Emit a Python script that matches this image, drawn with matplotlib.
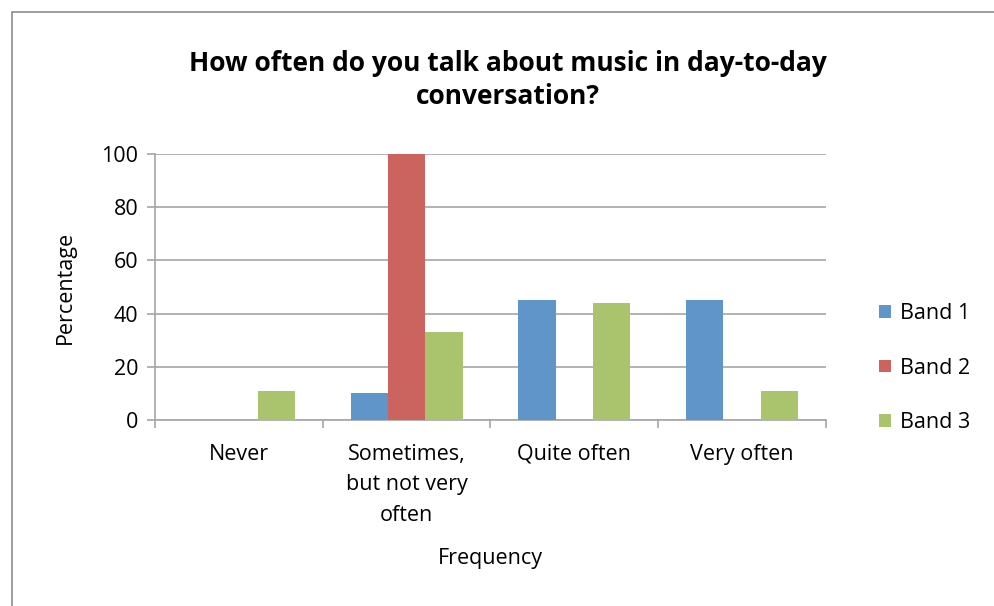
import matplotlib
matplotlib.use("Agg")
import matplotlib.pyplot as plt
from matplotlib.patches import Rectangle
import numpy as np

plt.rcParams['font.family'] = ['Open Sans', 'DejaVu Sans']

categories = ["Never", "Sometimes,\nbut not very\noften", "Quite often", "Very often"]
series = ["Band 1", "Band 2", "Band 3"]
band1 = [0, 10, 45, 45]
band2 = [0, 100, 0, 0]
band3 = [11, 33, 44, 11]
colors = ["#6095C9", "#CB645E", "#A9C46C"]

fig = plt.figure(figsize=(9.95, 6.06), dpi=100)
ax = fig.add_axes([155/995, 1-420/606, (826-155)/995, (420-154)/606])

# outer chart frame (runs off the right and bottom edges)
fig.patches.append(Rectangle((12/995, -0.1), 1.2, 1 - 12/606 + 0.1,
                             transform=fig.transFigure, fill=False,
                             edgecolor="#8c8c8c", linewidth=1.2))

x = np.arange(len(categories))
w = 1 / 4.5
for i, (name, vals) in enumerate(zip(series, [band1, band2, band3])):
    ax.bar(x + (i - 1) * w, vals, width=w, color=colors[i], label=name, zorder=3)

ax.set_xlim(-0.5, len(categories) - 0.5)
ax.set_ylim(0, 100)
ax.set_yticks(range(0, 101, 20))
ax.yaxis.grid(True, color="#a6a6a6", linewidth=1.2, zorder=0)
ax.set_xticks(x)
ax.set_xticklabels(categories, fontsize=15.5, linespacing=1.6)
ax.set_xticks(np.arange(-0.5, len(categories), 1), minor=True)
ax.tick_params(axis="x", which="major", length=0, pad=17)
ax.tick_params(axis="x", which="minor", length=6, color="#a6a6a6", width=1.2)
ax.tick_params(axis="y", length=6, color="#a6a6a6", width=1.2, labelsize=15.5, pad=6)
for s in ["top", "right"]:
    ax.spines[s].set_visible(False)
for s in ["left", "bottom"]:
    ax.spines[s].set_color("#a6a6a6")
    ax.spines[s].set_linewidth(1.2)

ax.set_ylabel("Percentage", fontsize=15.5, labelpad=18)
ax.set_xlabel("Frequency", fontsize=15.5, labelpad=16)
fig.text(508/995, 1-80/606, "How often do you talk about music in day-to-day\nconversation?",
         ha="center", va="center", fontsize=19, fontweight="bold", linespacing=1.25)

leg = ax.legend(loc="center left", bbox_to_anchor=(1.05, 0.195), frameon=False,
                fontsize=15.5, handlelength=0.55, handleheight=0.55, labelspacing=1.55,
                handletextpad=0.45)

fig.savefig("out.png", dpi=100)
